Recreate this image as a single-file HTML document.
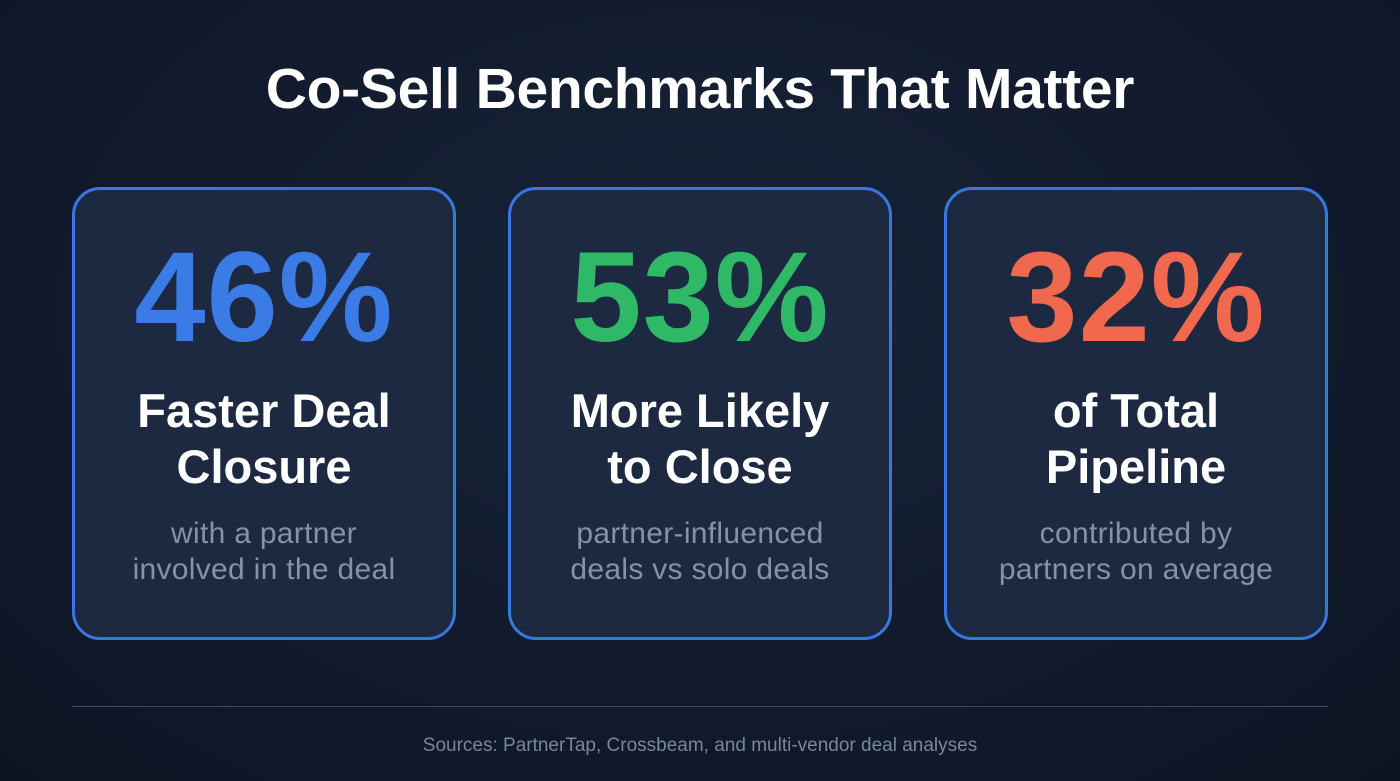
<!DOCTYPE html>
<html><head><meta charset="utf-8"><style>
body{margin:0;width:1400px;height:781px;overflow:hidden;background:radial-gradient(ellipse at 50% 40%,#1a253a 0%,#111a2c 60%,#0d1524 100%);font-family:"Liberation Sans",sans-serif;position:relative}
.t{position:absolute;left:0;width:1400px;top:56px;text-align:center;color:#fff;font-weight:bold;font-size:57px;letter-spacing:-0.3px}
.card{position:absolute;top:187px;width:378px;height:447px;border:3px solid #3a78e0;border-radius:28px;background:#1c2940}
.num,.h,.s{text-align:center}
.num{position:absolute;top:236px;font-weight:bold;font-size:128px;line-height:124px;letter-spacing:1px}
.h{position:absolute;top:383px;color:#fff;font-weight:bold;font-size:47px;line-height:56px}
.s{position:absolute;top:516px;color:#8592a8;font-size:30px;line-height:36px;letter-spacing:0.3px}
.line{position:absolute;left:72px;width:1256px;top:706px;height:1px;background:#3a4a62}
.src{position:absolute;left:0;width:1400px;top:735px;text-align:center;color:#7a869a;font-size:19px}
</style></head><body>
<div class="t">Co-Sell Benchmarks That Matter</div>
<div class="card" style="left:72px"></div>
<div class="card" style="left:508px"></div>
<div class="card" style="left:944px"></div>
<div class="num" style="left:72px;width:384px;color:#3b7be6">46%</div>
<div class="num" style="left:508px;width:384px;color:#2fb865">53%</div>
<div class="num" style="left:944px;width:384px;color:#f0694e">32%</div>
<div class="h" style="left:72px;width:384px">Faster Deal<br>Closure</div>
<div class="h" style="left:508px;width:384px">More Likely<br>to Close</div>
<div class="h" style="left:944px;width:384px">of Total<br>Pipeline</div>
<div class="s" style="left:72px;width:384px">with a partner<br>involved in the deal</div>
<div class="s" style="left:508px;width:384px">partner-influenced<br>deals vs solo deals</div>
<div class="s" style="left:944px;width:384px">contributed by<br>partners on average</div>
<div class="line"></div>
<div class="src">Sources: PartnerTap, Crossbeam, and multi-vendor deal analyses</div>
</body></html>
